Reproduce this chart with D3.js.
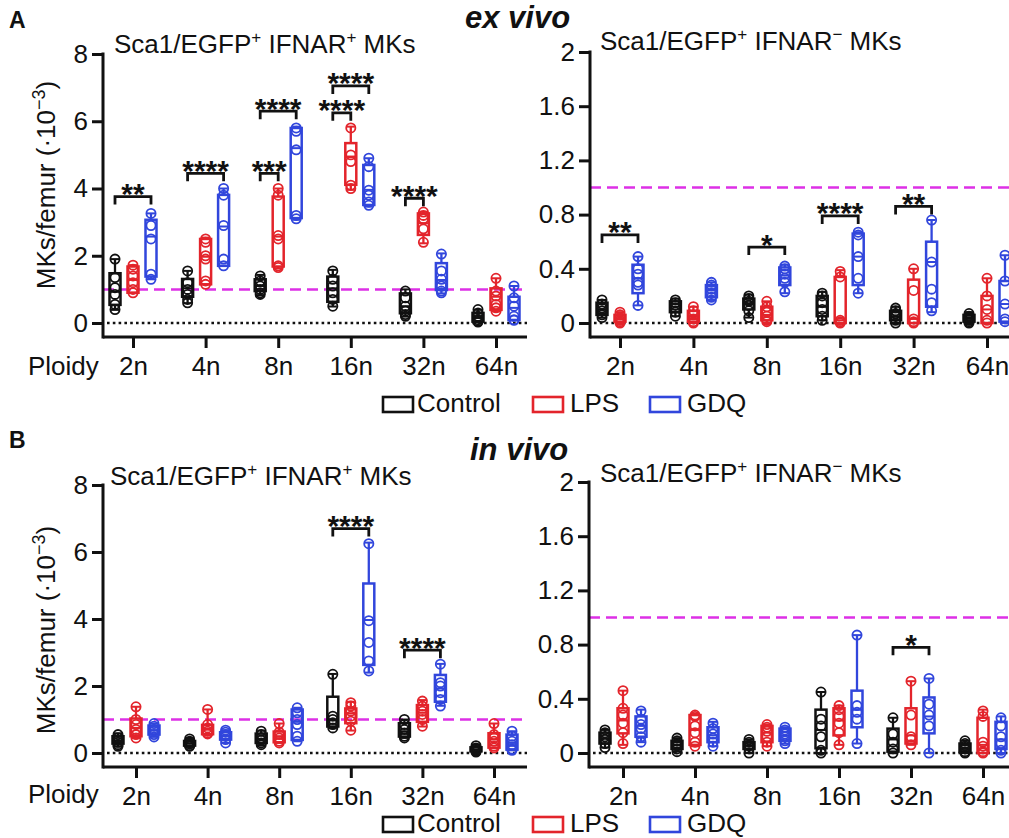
<!DOCTYPE html>
<html>
<head>
<meta charset="utf-8">
<script src="https://cdn.jsdelivr.net/npm/d3@7"></script>
<style>
  body { margin: 0; background: #fff; }
  svg { display: block; font-family: Arial, "Liberation Sans", sans-serif; }
</style>
</head>
<body>
<svg id="viz"></svg>
<script>
const ploidy = ["2n", "4n", "8n", "16n", "32n", "64n"];
const treatments = ["Control", "LPS", "GDQ"];
const colors = ["#111111", "#e3242b", "#3146dc"];

// box stats per ploidy: [min, q1, median, q3, max]
// A, IFNAR+ (ex vivo)
const exPosControlBox = [[0.39,0.54,0.93,1.48,1.9],[0.59,0.78,1.03,1.31,1.55],[0.83,0.95,1.1,1.3,1.43],[0.49,0.63,1.03,1.38,1.58],[0.19,0.29,0.5,0.88,1.0],[0.03,0.04,0.15,0.3,0.39]];
const exPosLpsBox = [[0.9,0.9,1.28,1.68,1.72],[1.15,1.15,1.97,2.5,2.54],[1.63,1.68,2.57,3.76,4.0],[3.96,4.11,4.95,5.35,5.84],[2.37,2.62,2.97,3.26,3.31],[0.35,0.39,0.78,1.03,1.33]];
const exPosGdqBox = [[1.3,1.38,2.57,3.07,3.26],[1.7,1.7,2.87,3.81,4.0],[3.07,3.12,5.2,5.8,5.84],[3.46,3.51,3.96,4.7,4.9],[0.88,0.98,1.28,1.78,2.07],[0.08,0.09,0.45,0.78,1.1]];
const exPosControlPts = [[1.9,1.35,1.05,0.85,0.55,0.4],[1.55,1.2,1.0,0.85,0.7,0.6],[1.4,1.25,1.1,1.0,0.9,0.85],[1.55,1.3,1.1,0.9,0.7,0.5],[0.95,0.75,0.5,0.35,0.25,0.2],[0.4,0.3,0.2,0.1,0.05,0.03]];
const exPosLpsPts = [[1.72,1.6,1.4,1.2,1.0,0.9],[2.5,2.4,2.0,1.9,1.25,1.15],[4.0,3.8,2.6,2.5,1.7,1.65],[5.8,5.0,4.8,4.1,4.0],[3.3,3.2,3.1,2.8,2.4],[1.33,0.95,0.8,0.55,0.45,0.35]];
const exPosGdqPts = [[3.26,2.9,2.5,1.45,1.3],[4.0,3.8,2.9,1.9,1.7],[5.8,5.7,5.15,3.2,3.1],[4.9,4.65,3.95,3.8,3.6,3.5],[2.05,1.55,1.3,1.1,0.95,0.9],[1.1,0.75,0.5,0.2,0.1,0.08]];
const exPosSig = [["2n","Control","GDQ",3.76,"**"],["4n","Control","GDQ",4.45,"****"],["8n","Control","LPS",4.45,"***"],["8n","Control","GDQ",6.3,"****"],["16n","Control","LPS",6.25,"****"],["16n","Control","GDQ",7.05,"****"],["32n","Control","LPS",3.71,"****"]];

// A, IFNAR- (ex vivo)
const exNegControlBox = [[0.04,0.06,0.1,0.15,0.17],[0.05,0.08,0.12,0.16,0.18],[0.04,0.1,0.14,0.18,0.21],[0.02,0.05,0.12,0.2,0.23],[0.0,0.02,0.05,0.09,0.12],[0.0,0.01,0.03,0.06,0.08]];
const exNegLpsBox = [[0.0,0.01,0.03,0.06,0.08],[0.0,0.01,0.05,0.09,0.12],[0.0,0.02,0.06,0.12,0.16],[0.0,0.0,0.02,0.34,0.39],[0.0,0.0,0.03,0.32,0.4],[0.0,0.0,0.1,0.2,0.33]];
const exNegGdqBox = [[0.13,0.22,0.33,0.43,0.49],[0.17,0.19,0.24,0.28,0.3],[0.22,0.28,0.35,0.41,0.43],[0.22,0.28,0.49,0.66,0.67],[0.08,0.12,0.45,0.6,0.76],[0.0,0.01,0.14,0.31,0.5]];
const exNegControlPts = [[0.17,0.14,0.11,0.09,0.06,0.04],[0.17,0.15,0.13,0.11,0.08,0.05],[0.2,0.18,0.16,0.13,0.09,0.04],[0.22,0.2,0.15,0.1,0.05,0.02],[0.11,0.09,0.07,0.05,0.02,0.0],[0.07,0.05,0.04,0.02,0.01,0.0]];
const exNegLpsPts = [[0.08,0.06,0.04,0.02,0.01,0.0],[0.12,0.09,0.06,0.03,0.01,0.0],[0.16,0.12,0.08,0.05,0.02,0.01],[0.38,0.34,0.02,0.01,0.0],[0.4,0.24,0.03,0.01,0.0],[0.33,0.2,0.1,0.02,0.0]];
const exNegGdqPts = [[0.49,0.4,0.36,0.3,0.28,0.13],[0.3,0.28,0.25,0.22,0.19,0.17],[0.42,0.4,0.36,0.33,0.3,0.23],[0.67,0.65,0.49,0.33,0.22],[0.76,0.45,0.25,0.15,0.09],[0.5,0.31,0.14,0.03,0.01]];
const exNegSig = [["2n","Control","GDQ",0.65,"**"],["8n","Control","GDQ",0.56,"*"],["16n","Control","GDQ",0.79,"****"],["32n","Control","GDQ",0.86,"**"]];

// B, IFNAR+ (in vivo)
const inPosControlBox = [[0.19,0.28,0.37,0.5,0.59],[0.2,0.22,0.29,0.36,0.45],[0.22,0.3,0.42,0.58,0.67],[0.74,0.79,0.99,1.68,2.36],[0.45,0.49,0.65,0.89,1.0],[0.03,0.05,0.1,0.17,0.25]];
const inPosLpsBox = [[0.45,0.5,0.75,1.03,1.38],[0.55,0.56,0.7,0.84,1.3],[0.3,0.32,0.5,0.64,0.88],[0.67,0.89,1.18,1.33,1.53],[0.79,0.93,1.2,1.43,1.58],[0.14,0.16,0.4,0.59,0.88]];
const inPosGdqBox = [[0.48,0.55,0.68,0.82,0.88],[0.3,0.4,0.52,0.62,0.68],[0.35,0.39,0.93,1.3,1.35],[2.4,2.63,3.97,5.06,6.28],[1.41,1.53,1.93,2.33,2.66],[0.08,0.1,0.3,0.55,0.65]];
const inPosControlPts = [[0.55,0.45,0.38,0.32,0.25,0.2],[0.42,0.35,0.3,0.27,0.22,0.2],[0.65,0.55,0.45,0.38,0.3,0.25],[2.35,1.1,1.0,0.9,0.85,0.75],[1.0,0.85,0.7,0.6,0.5,0.45],[0.22,0.15,0.12,0.08,0.05,0.03]];
const inPosLpsPts = [[1.38,1.0,0.85,0.7,0.55,0.45],[1.3,0.85,0.75,0.65,0.6,0.57],[0.88,0.62,0.55,0.45,0.35,0.3],[1.5,1.4,1.25,1.1,0.95,0.68],[1.55,1.4,1.25,1.15,1.0,0.8],[0.88,0.55,0.45,0.35,0.2,0.15]];
const inPosGdqPts = [[0.88,0.8,0.7,0.65,0.55,0.48],[0.68,0.62,0.55,0.5,0.4,0.3],[1.35,1.2,1.0,0.85,0.5,0.35],[6.25,3.95,3.3,2.75,2.45],[2.65,2.1,2.0,1.8,1.6,1.4],[0.65,0.5,0.35,0.25,0.12,0.08]];
const inPosSig = [["16n","Control","GDQ",6.7,"****"],["32n","Control","GDQ",3.07,"****"]];

// B, IFNAR- (in vivo)
const inNegControlBox = [[0.04,0.07,0.11,0.15,0.17],[0.01,0.03,0.06,0.09,0.11],[0.0,0.03,0.055,0.08,0.1],[0.0,0.035,0.17,0.32,0.45],[0.0,0.01,0.1,0.18,0.26],[0.0,0.01,0.03,0.07,0.09]];
const inNegLpsBox = [[0.06,0.145,0.24,0.33,0.46],[0.05,0.06,0.17,0.28,0.29],[0.05,0.08,0.15,0.2,0.21],[0.06,0.13,0.24,0.33,0.35],[0.06,0.07,0.13,0.33,0.53],[0.0,0.0,0.06,0.26,0.32]];
const inNegGdqBox = [[0.08,0.12,0.2,0.27,0.32],[0.05,0.08,0.13,0.19,0.23],[0.07,0.09,0.13,0.18,0.19],[0.07,0.19,0.32,0.46,0.87],[0.0,0.145,0.27,0.41,0.55],[0.0,0.03,0.1,0.23,0.27]];
const inNegControlPts = [[0.17,0.15,0.12,0.1,0.07,0.04],[0.11,0.09,0.07,0.05,0.03,0.01],[0.1,0.08,0.06,0.05,0.03,0.0],[0.45,0.25,0.2,0.12,0.02,0.0],[0.26,0.14,0.08,0.03,0.0],[0.09,0.07,0.05,0.03,0.01,0.0]];
const inNegLpsPts = [[0.46,0.33,0.28,0.22,0.15,0.07],[0.28,0.27,0.2,0.15,0.08,0.05],[0.21,0.19,0.16,0.12,0.08,0.05],[0.35,0.32,0.27,0.22,0.15,0.06],[0.53,0.28,0.12,0.1,0.06],[0.31,0.27,0.08,0.05,0.01,0.0]];
const inNegGdqPts = [[0.31,0.25,0.21,0.18,0.12,0.08],[0.22,0.18,0.14,0.11,0.08,0.05],[0.19,0.17,0.14,0.12,0.09,0.07],[0.87,0.35,0.3,0.25,0.07],[0.55,0.36,0.28,0.2,0.0],[0.26,0.2,0.12,0.07,0.02,0.0]];
const inNegSig = [["32n","Control","GDQ",0.78,"*"]];

const posTicks = [0, 2, 4, 6, 8];
const negTicks = [0, 0.4, 0.8, 1.2, 1.6, 2];
const refLine = 1;

const W = 1009, H = 838;
const svg = d3.select("#viz").attr("width", W).attr("height", H);

const panels = [
  { left: 103, right: 527, zeroY: 323, topY: 54, axisY: 337, x0: 133, x1: 496, max: 8, ticks: posTicks,
    box: [exPosControlBox, exPosLpsBox, exPosGdqBox], pts: [exPosControlPts, exPosLpsPts, exPosGdqPts], sig: exPosSig,
    title: [114, 53], sup: "+", yLabel: 185, ploidyY: 375 },
  { left: 590, right: 1040, zeroY: 323, topY: 52, axisY: 337, x0: 620, x1: 987, max: 2, ticks: negTicks,
    box: [exNegControlBox, exNegLpsBox, exNegGdqBox], pts: [exNegControlPts, exNegLpsPts, exNegGdqPts], sig: exNegSig,
    title: [600, 50], sup: "\u2212" },
  { left: 103, right: 527, zeroY: 753, topY: 485, axisY: 767, x0: 136, x1: 494, max: 8, ticks: posTicks,
    box: [inPosControlBox, inPosLpsBox, inPosGdqBox], pts: [inPosControlPts, inPosLpsPts, inPosGdqPts], sig: inPosSig,
    title: [110, 485], sup: "+", yLabel: 630, ploidyY: 803 },
  { left: 589, right: 1040, zeroY: 753, topY: 482, axisY: 767, x0: 623, x1: 983, max: 2, ticks: negTicks,
    box: [inNegControlBox, inNegLpsBox, inNegGdqBox], pts: [inNegControlPts, inNegLpsPts, inNegGdqPts], sig: inNegSig,
    title: [600, 482], sup: "\u2212" }
];

function drawPanel(p) {
  const g = svg.append("g");
  const x = d3.scalePoint().domain(ploidy).range([p.x0, p.x1]);
  const dx = d3.scalePoint().domain(treatments).range([-18, 18]);
  const y = d3.scaleLinear().domain([0, p.max]).range([p.zeroY, p.topY]);

  // reference lines
  g.append("line")
    .attr("x1", p.left).attr("x2", p.right)
    .attr("y1", y(refLine)).attr("y2", y(refLine))
    .attr("stroke", "#dd30e6").attr("stroke-width", 2.5)
    .attr("stroke-dasharray", "11,6");
  g.append("line")
    .attr("x1", p.left + 4).attr("x2", p.right)
    .attr("y1", y(0)).attr("y2", y(0))
    .attr("stroke", "#111").attr("stroke-width", 2.6)
    .attr("stroke-dasharray", "2.6,3.2");

  // boxes
  treatments.forEach((t, ti) => {
    const col = colors[ti];
    const bg = g.append("g").attr("stroke", col).attr("fill", "none");
    ploidy.forEach((pl, i) => {
      const [mn, q1, md, q3, mx] = p.box[ti][i];
      const cx = x(pl) + dx(t);
      bg.append("line").attr("x1", cx).attr("x2", cx).attr("y1", y(mx)).attr("y2", y(q3)).attr("stroke-width", 2.3);
      bg.append("line").attr("x1", cx).attr("x2", cx).attr("y1", y(q1)).attr("y2", y(mn)).attr("stroke-width", 2.3);
      bg.append("rect").attr("x", cx - 5.5).attr("width", 11)
        .attr("y", y(q3)).attr("height", Math.max(0.5, y(q1) - y(q3)))
        .attr("stroke-width", 2.5);
      bg.append("line").attr("x1", cx - 5.5).attr("x2", cx + 5.5).attr("y1", y(md)).attr("y2", y(md)).attr("stroke-width", 2);
      [mn, mx].forEach(v => {
        bg.append("line").attr("x1", cx - 4).attr("x2", cx + 4).attr("y1", y(v)).attr("y2", y(v)).attr("stroke-width", 2);
      });
      bg.selectAll(null).data(p.pts[ti][i]).enter().append("circle")
        .attr("cx", cx).attr("cy", d => y(d)).attr("r", 4.6)
        .attr("stroke-width", 1.8);
    });
  });

  // significance brackets
  p.sig.forEach(([pl, a, b, v, lab]) => {
    const xa = x(pl) + dx(a), xb = x(pl) + dx(b), yb = y(v);
    g.append("path")
      .attr("d", `M${xa},${yb + 8}V${yb}H${xb}V${yb + 8}`)
      .attr("fill", "none").attr("stroke", "#111").attr("stroke-width", 2.8);
    g.append("text")
      .attr("x", (xa + xb) / 2).attr("y", yb + 7.5)
      .attr("text-anchor", "middle").attr("font-size", 30).attr("font-weight", "bold")
      .attr("fill", "#111").text(lab);
  });

  // y axis
  const ya = g.append("g").attr("transform", `translate(${p.left},0)`)
    .call(d3.axisLeft(y).tickValues(p.ticks).tickSize(11).tickPadding(4).tickFormat(d => String(d)));
  ya.select(".domain").remove();
  ya.selectAll("line").attr("stroke", "#111").attr("stroke-width", 3);
  ya.selectAll("text").attr("font-size", 26).attr("fill", "#111").attr("font-family", null);
  g.append("line").attr("x1", p.left).attr("x2", p.left)
    .attr("y1", y(p.max) - 1.5).attr("y2", p.axisY + 1.5)
    .attr("stroke", "#111").attr("stroke-width", 3);

  // x axis
  const xa = g.append("g").attr("transform", `translate(0,${p.axisY})`)
    .call(d3.axisBottom(x).tickSize(11).tickPadding(9));
  xa.select(".domain").remove();
  xa.selectAll("line").attr("stroke", "#111").attr("stroke-width", 3);
  xa.selectAll("text").attr("font-size", 26).attr("fill", "#111").attr("font-family", null);
  g.append("line").attr("x1", p.left).attr("x2", p.right)
    .attr("y1", p.axisY).attr("y2", p.axisY)
    .attr("stroke", "#111").attr("stroke-width", 3);

  // panel title
  const tt = g.append("text").attr("x", p.title[0]).attr("y", p.title[1])
    .attr("font-size", 26).attr("fill", "#111");
  tt.append("tspan").text("Sca1/EGFP");
  tt.append("tspan").attr("dy", -10).attr("font-size", 17).text("+");
  tt.append("tspan").attr("dy", 10).text(" IFNAR");
  tt.append("tspan").attr("dy", -10).attr("font-size", 17).text(p.sup);
  tt.append("tspan").attr("dy", 10).text(" MKs");

  if (p.yLabel) {
    const yl = g.append("text")
      .attr("transform", `translate(55,${p.yLabel}) rotate(-90)`)
      .attr("text-anchor", "middle").attr("font-size", 26).attr("fill", "#111");
    yl.append("tspan").text("MKs/femur (\u00b710");
    yl.append("tspan").attr("dy", -10).attr("font-size", 18).text("\u22123");
    yl.append("tspan").attr("dy", 10).text(")");
    g.append("text").attr("x", 28).attr("y", p.ploidyY)
      .attr("font-size", 26).attr("fill", "#111").text("Ploidy");
  }
}

panels.forEach(drawPanel);

// panel letters and headings
svg.append("text").attr("x", 9).attr("y", 28).attr("font-size", 23).attr("font-weight", "bold").attr("fill", "#111").text("A");
svg.append("text").attr("x", 9).attr("y", 448).attr("font-size", 23).attr("font-weight", "bold").attr("fill", "#111").text("B");
svg.append("text").attr("x", 465).attr("y", 28).attr("font-size", 31).attr("font-weight", "bold").attr("font-style", "italic").attr("fill", "#111").text("ex vivo");
svg.append("text").attr("x", 470).attr("y", 460).attr("font-size", 31).attr("font-weight", "bold").attr("font-style", "italic").attr("fill", "#111").text("in vivo");

// legends
const legendX = [[383, 417], [533, 570], [650, 687]];
[[397, 412], [817, 832]].forEach(([by, ty]) => {
  treatments.forEach((t, i) => {
    svg.append("rect").attr("x", legendX[i][0]).attr("y", by).attr("width", 30).attr("height", 15)
      .attr("fill", "none").attr("stroke", colors[i]).attr("stroke-width", 2.6);
    svg.append("text").attr("x", legendX[i][1]).attr("y", ty)
      .attr("font-size", 26).attr("fill", "#111").text(t);
  });
});
</script>
</body>
</html>
